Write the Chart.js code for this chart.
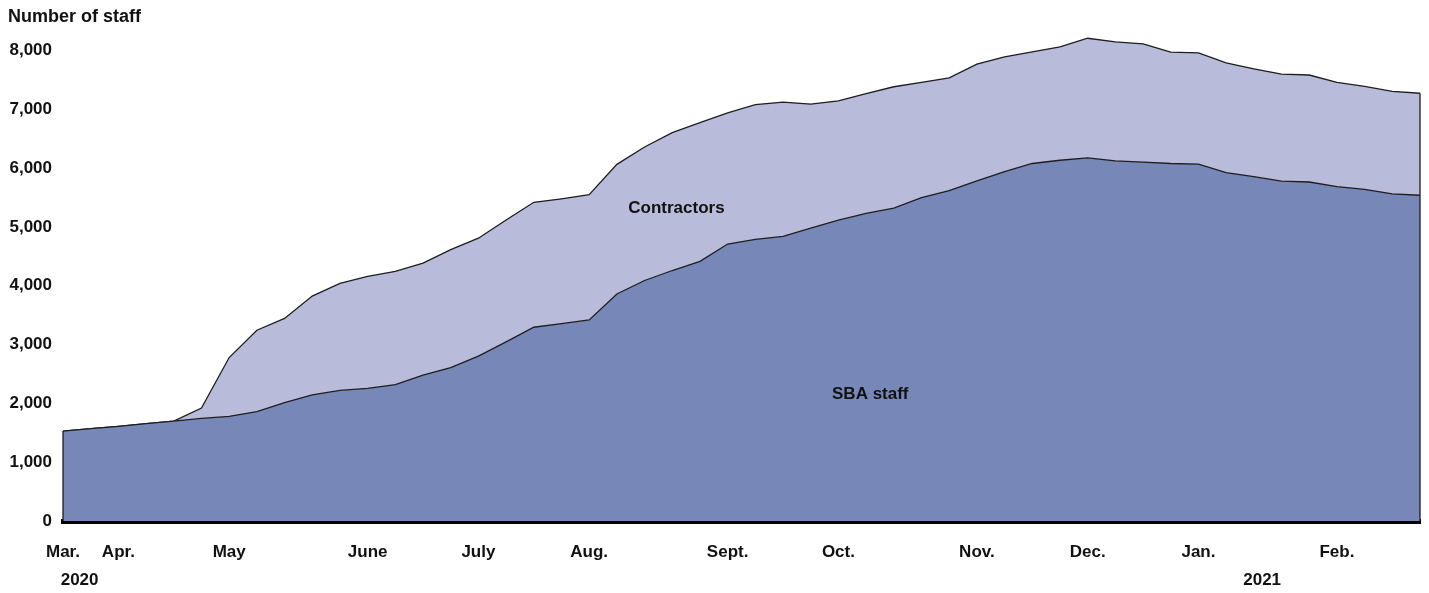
<!DOCTYPE html>
<html>
<head>
<meta charset="utf-8">
<script src="https://cdn.jsdelivr.net/npm/chart.js@4/dist/chart.umd.min.js"></script>
<style>
  html, body { margin: 0; padding: 0; background: #fff; }
  #wrap { width: 1429px; height: 593px; position: relative; }
</style>
</head>
<body>
<div id="wrap"><canvas id="grafico"></canvas></div>
<script>
// semanas de mar. 2020 a fev. 2021
const semanas = [
  "Mar.", "", "Apr.", "", "", "", "May", "", "", "", "",
  "June", "", "", "", "July", "", "", "", "Aug.", "", "", "", "",
  "Sept.", "", "", "", "Oct.", "", "", "", "", "Nov.", "", "", "",
  "Dec.", "", "", "", "Jan.", "", "", "", "", "Feb.", "", "", ""
];

const sbaStaff = [
  1530, 1570, 1610, 1655, 1700, 1745, 1780, 1860, 2015, 2145,
  2220, 2255, 2320, 2480, 2610, 2805, 3045, 3295, 3355, 3420,
  3860, 4090, 4260, 4415, 4710, 4790, 4840, 4980, 5115, 5230,
  5320, 5500, 5620, 5785, 5940, 6080, 6135, 6175, 6125, 6105,
  6080, 6070, 5925, 5855, 5780, 5765, 5685, 5640, 5565, 5540
];

const contractors = [
  0, 0, 0, 0, 0, 175, 1000, 1385, 1430, 1680,
  1820, 1905, 1925, 1905, 2005, 2005, 2075, 2125, 2125, 2130,
  2205, 2270, 2345, 2360, 2230, 2290, 2285, 2110, 2030, 2040,
  2065, 1960, 1915, 1985, 1955, 1900, 1930, 2035, 2025, 2010,
  1895, 1890, 1865, 1835, 1820, 1820, 1775, 1750, 1740, 1735
];

const yTicks = [0, 1000, 2000, 3000, 4000, 5000, 6000, 7000, 8000];

// anos: [texto, indice da semana]
const anos = [["2020", 0.6], ["2021", 43.3]];

// rotulos das areas: [texto, indice, valor]
const rotulos = [["Contractors", 22.15, 5320], ["SBA staff", 29.15, 2160]];

const FONTE = "'Liberation Sans', Arial, sans-serif";

const extras = {
  id: "extras",
  afterDatasetsDraw(chart) {
    const ctx = chart.ctx;
    const x = chart.scales.x;
    const y = chart.scales.y;
    const base = y.getPixelForValue(0);

    // bordas verticais das areas
    const topo = chart.getDatasetMeta(1).data;
    const sba = chart.getDatasetMeta(0).data;
    ctx.save();
    ctx.strokeStyle = "#1e1e1e";
    ctx.lineWidth = 1.3;
    ctx.beginPath();
    ctx.moveTo(sba[0].x, sba[0].y);
    ctx.lineTo(sba[0].x, base);
    const ult = topo[topo.length - 1];
    ctx.moveTo(ult.x, ult.y);
    ctx.lineTo(ult.x, base);
    ctx.stroke();

    ctx.fillStyle = "#111";
    ctx.font = "bold 17px " + FONTE;
    ctx.textAlign = "center";
    ctx.textBaseline = "middle";
    rotulos.forEach(([txt, i, v]) => {
      ctx.fillText(txt, x.getPixelForValue(i), y.getPixelForValue(v));
    });
    ctx.restore();
  },
  afterDraw(chart) {
    const ctx = chart.ctx;
    const x = chart.scales.x;
    ctx.save();
    ctx.fillStyle = "#111";
    ctx.font = "bold 18px " + FONTE;
    ctx.textBaseline = "middle";
    ctx.textAlign = "left";
    ctx.fillText("Number of staff", 8, 17);
    ctx.font = "bold 17px " + FONTE;
    ctx.textAlign = "center";
    anos.forEach(([txt, i]) => {
      ctx.fillText(txt, x.getPixelForValue(i), 580);
    });
    ctx.restore();
  }
};

new Chart(document.getElementById("grafico"), {
  type: "line",
  data: {
    labels: semanas,
    datasets: [
      {
        label: "SBA staff",
        data: sbaStaff,
        backgroundColor: "#7788b8",
        borderColor: "#1e1e1e",
        borderWidth: 1.3,
        fill: "origin",
        pointRadius: 0,
        tension: 0
      },
      {
        label: "Contractors",
        data: contractors,
        backgroundColor: "#b8bbd9",
        borderColor: "#1e1e1e",
        borderWidth: 1.3,
        fill: "-1",
        pointRadius: 0,
        tension: 0
      }
    ]
  },
  options: {
    responsive: true,
    maintainAspectRatio: false,
    animation: false,
    layout: { padding: { top: 19, right: 9, left: 0, bottom: 0 } },
    plugins: {
      legend: { display: false },
      tooltip: { enabled: false }
    },
    scales: {
      x: {
        offset: false,
        grid: { display: false, drawTicks: false },
        border: { display: true, color: "#000", width: 5 },
        ticks: {
          autoSkip: false,
          maxRotation: 0,
          minRotation: 0,
          padding: 21,
          color: "#111",
          font: { family: FONTE, size: 17, weight: "bold" }
        },
        afterFit(scale) {
          scale.height = 72;
          scale.paddingLeft = 0;
          scale.paddingRight = 0;
        }
      },
      y: {
        stacked: true,
        min: 0,
        max: 8500,
        grid: { display: false, drawTicks: false },
        border: { display: false },
        afterBuildTicks(scale) {
          scale.ticks = yTicks.map((v) => ({ value: v }));
        },
        ticks: {
          padding: 11,
          color: "#111",
          font: { family: FONTE, size: 17, weight: "bold" },
          callback: (v) => v.toLocaleString("en-US")
        },
        afterFit(scale) { scale.width = 63; }
      }
    }
  },
  plugins: [extras]
});
</script>
</body>
</html>
